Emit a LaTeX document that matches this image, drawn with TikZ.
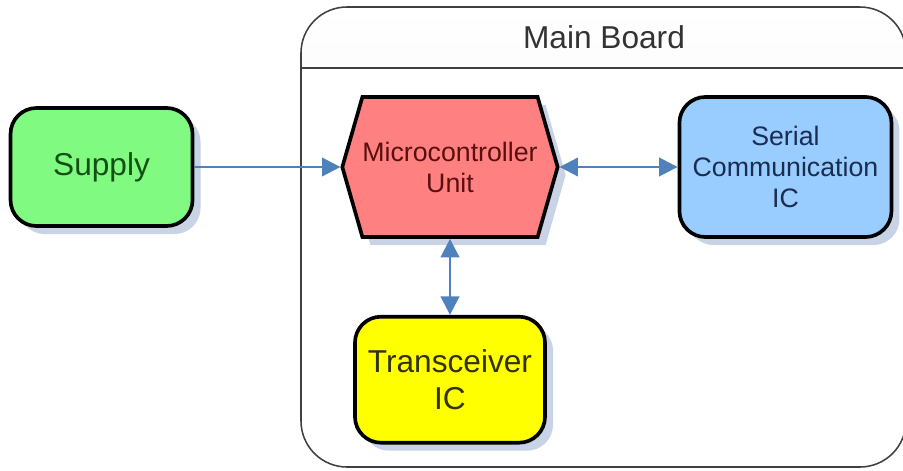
\documentclass[tikz,border=0pt]{standalone}
\usepackage{fontspec}
\setmainfont{Liberation Sans}
\usetikzlibrary{shapes.symbols, arrows.meta, positioning, shadows}
\definecolor{linkblue}{RGB}{79, 129, 189}
\definecolor{supplygreen}{RGB}{128, 250, 128}
\definecolor{mcured}{RGB}{255, 128, 128}
\definecolor{serialblue}{RGB}{153, 204, 255}
\definecolor{xcvryellow}{RGB}{255, 255, 0}
\definecolor{supplytext}{RGB}{20, 80, 20}
\definecolor{mcutext}{RGB}{90, 15, 15}
\definecolor{serialtext}{RGB}{25, 45, 80}
\definecolor{xcvrtext}{RGB}{50, 50, 0}
\definecolor{shadowgray}{RGB}{200, 212, 230}
\definecolor{framegray}{RGB}{64, 64, 64}
\tikzset{
  >=Triangle,
  linkarrow/.style={-{Triangle[length=4.6mm, width=4.6mm]}, line width=1.8pt, linkblue},
  linkboth/.style={{Triangle[length=4.6mm, width=4.6mm]}-{Triangle[length=4.6mm, width=4.6mm]}, line width=1.8pt, linkblue},
  blockshadow/.style={drop shadow={shadow xshift=0.2cm, shadow yshift=-0.2cm, fill=shadowgray, opacity=1}},
  blockbox/.style={draw=black, line width=2.6pt, rounded corners=0.65cm, align=center, blockshadow},
  mcubox/.style={draw=black, line width=2.6pt, fill=mcured, align=center, inner xsep=0pt, signal, signal to=west and east, signal pointer angle=148, blockshadow},
  bigtext/.style={font=\fontsize{22.5}{26}\selectfont},
  smalltext/.style={font=\fontsize{19}{22}\selectfont}
}
\begin{document}
\begin{tikzpicture}[x=0.025cm, y=0.025cm]
    \useasboundingbox (0,0) rectangle (903,470);
    \clip (0,0) rectangle (903,470);
    % main board frame with shaded header
    \begin{scope}
        \clip (301,402) rectangle (906,463);
        \shade[top color=white, bottom color=gray!15, rounded corners=1.15cm] (301,3) rectangle (906,463);
    \end{scope}
    \draw[framegray, line width=1.1pt, rounded corners=1.15cm] (301,3) rectangle (906,463);
    \draw[framegray, line width=1.6pt] (301,402) -- (906,402);
    \node (boardtitle) [bigtext, text=black!80] at (604,433) {Main Board};
    % blocks
    \node (mcu) [mcubox, smalltext, text=mcutext, minimum width=5.1cm, minimum height=3.5cm] at (450,303) {Microcontroller\\Unit};
    \node (supply) [blockbox, bigtext, fill=supplygreen, text=supplytext, minimum width=4.55cm, minimum height=2.95cm, left=3.65cm of mcu] {Supply};
    \node (serial) [blockbox, smalltext, fill=serialblue, text=serialtext, minimum width=5.3cm, minimum height=3.5cm, right=2.95cm of mcu] {Serial\\Communication\\IC};
    \node (xcvr) [blockbox, bigtext, fill=xcvryellow, text=xcvrtext, minimum width=4.75cm, minimum height=3.15cm, below=1.9cm of mcu] {Transceiver\\IC};
    % links
    \draw[linkarrow] (supply.east) -- (mcu.west);
    \draw[linkboth] (mcu.east) -- (serial.west);
    \draw[linkboth] (mcu.south) -- (xcvr.north);
\end{tikzpicture}
\end{document}
